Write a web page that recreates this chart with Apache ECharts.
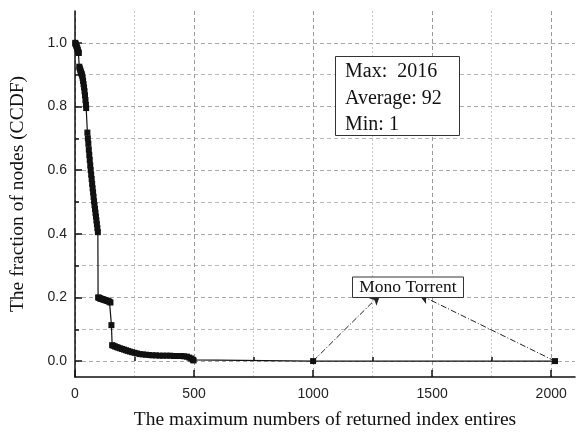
<!DOCTYPE html>
<html><head><meta charset="utf-8">
<script src="https://cdn.jsdelivr.net/npm/echarts@6/dist/echarts.min.js"></script>
<style>html,body{margin:0;padding:0;background:#fff}#c{width:578px;height:435px}</style>
</head><body><div id="c"></div>
<script>
// x: maximum number of returned index entries; y: CCDF
const entriesX = [
  1, 2, 4, 6, 8, 10, 12, 14, 16,
  18, 20, 22, 24, 26, 28, 30, 32, 34, 36, 38, 40, 42, 44, 46, 47,
  52, 54, 56, 58, 60, 62, 64, 66, 68, 70, 72, 74, 76, 78, 80, 82, 84, 86, 88, 90, 92, 94, 96,
  97, 101, 105, 109, 113, 117, 121, 125, 129, 133, 137, 141, 145, 149,
  153,
  156, 162, 168, 175, 182, 190, 198, 206, 214, 222, 230, 240, 250, 260, 272, 285, 298, 312, 325,
  340, 355, 370, 385, 400, 415, 430, 445, 458, 470, 480, 488, 495, 498,
  1000, 2016
];
const ccdfY = [
  1.0, 0.997, 0.994, 0.99, 0.986, 0.982, 0.977, 0.972, 0.968,
  0.925, 0.92, 0.915, 0.91, 0.906, 0.902, 0.897, 0.89, 0.88, 0.87, 0.86, 0.848, 0.835, 0.82, 0.805, 0.795,
  0.718, 0.70, 0.683, 0.665, 0.648, 0.632, 0.615, 0.60, 0.586, 0.572, 0.557, 0.543, 0.53, 0.516, 0.502, 0.49, 0.478, 0.466, 0.454, 0.442, 0.43, 0.418, 0.405,
  0.20, 0.199, 0.197, 0.196, 0.195, 0.194, 0.193, 0.192, 0.191, 0.19, 0.189, 0.188, 0.186, 0.184,
  0.113,
  0.05, 0.048, 0.046, 0.044, 0.042, 0.04, 0.038, 0.036, 0.034, 0.032, 0.03, 0.028, 0.026, 0.024, 0.022, 0.021, 0.02, 0.019, 0.018,
  0.018, 0.017, 0.017, 0.017, 0.017, 0.016, 0.016, 0.016, 0.015, 0.014, 0.011, 0.008, 0.004, 0.002,
  0.0, 0.0
];
const xMajorTicks = [0, 500, 1000, 1500, 2000];
const xMinorTicks = [250, 750, 1250, 1750];
const yMajorTicks = [0, 0.2, 0.4, 0.6, 0.8, 1.0];
const yMinorTicks = [0.1, 0.3, 0.5, 0.7, 0.9];
const statsLines = ['Max:  2016', 'Average: 92', 'Min: 1'];
const calloutText = 'Mono Torrent';
const calloutSources = [[1000, 0], [2016, 0]];
const calloutTargets = [[1283, 0.21], [1443, 0.21]];

const seriesData = entriesX.map((x, i) => [x, ccdfY[i]]);

const chart = echarts.init(document.getElementById('c'), null, {renderer: 'canvas'});
const sans = 'Liberation Sans';
const serif = 'Liberation Serif';
const X_MIN = 0, X_MAX = 2100, Y_MIN = -0.05, Y_MAX = 1.1;

chart.setOption({
  animation: false,
  backgroundColor: '#fff',
  grid: {left: 72, right: 3, top: 11, bottom: 52, containLabel: false},
  xAxis: [{
    type: 'value', min: X_MIN, max: X_MAX, interval: 500, position: 'bottom',
    name: 'The maximum numbers of returned index entires',
    nameLocation: 'middle', nameGap: 33,
    nameTextStyle: {fontFamily: serif, fontSize: 19.5, color: '#111'},
    axisLine: {show: true, onZero: false, lineStyle: {color: '#111', width: 1.5}},
    axisTick: {show: true, inside: true, length: 7, customValues: xMajorTicks, lineStyle: {color: '#111', width: 1.5}},
    axisLabel: {show: true, customValues: xMajorTicks, margin: 10, fontFamily: sans, fontSize: 14, color: '#222',
      formatter: v => String(v)},
    splitLine: {show: true, lineStyle: {color: '#9a9a9a', width: 1, type: [4, 3]}}
  }, {
    type: 'value', min: X_MIN, max: X_MAX, interval: 500, position: 'bottom',
    axisLine: {show: false},
    axisTick: {show: true, inside: true, length: 4, customValues: xMinorTicks, lineStyle: {color: '#111', width: 1.5}},
    axisLabel: {show: false},
    splitLine: {show: true, lineStyle: {color: '#c8c8c8', width: 1, type: [2, 2]}}
  }],
  yAxis: [{
    type: 'value', min: Y_MIN, max: Y_MAX, position: 'left',
    name: 'The fraction of nodes (CCDF)',
    nameLocation: 'middle', nameGap: 47, nameRotate: 90,
    nameTextStyle: {fontFamily: serif, fontSize: 19.5, color: '#111'},
    axisLine: {show: true, onZero: false, lineStyle: {color: '#111', width: 1.5}},
    axisTick: {show: true, inside: true, length: 7, customValues: yMajorTicks, lineStyle: {color: '#111', width: 1.5}},
    axisLabel: {show: true, customValues: yMajorTicks, margin: 8, fontFamily: sans, fontSize: 14, color: '#222',
      formatter: v => v.toFixed(1)},
    splitLine: {show: true, lineStyle: {color: '#a8a8a8', width: 1, type: [4, 3]}}
  }, {
    type: 'value', min: Y_MIN, max: Y_MAX, position: 'left',
    axisLine: {show: false},
    axisTick: {show: true, inside: true, length: 4, customValues: yMinorTicks, lineStyle: {color: '#111', width: 1.5}},
    axisLabel: {show: false},
    splitLine: {show: true, lineStyle: {color: '#b8b8b8', width: 1, type: [4, 3]}}
  }],
  series: [{
    type: 'line',
    xAxisIndex: 0, yAxisIndex: 0,
    data: seriesData,
    showAllSymbol: true,
    symbol: 'rect', symbolSize: 6,
    itemStyle: {color: '#111'},
    lineStyle: {color: '#111', width: 1.2},
    clip: false,
    z: 5,
    markLine: {
      silent: true,
      symbol: ['none', 'arrow'],
      symbolSize: [8, 11],
      label: {show: false},
      lineStyle: {color: '#222', width: 1, type: [6, 2, 1, 2]},
      data: calloutSources.map((s, i) => [{coord: s}, {coord: calloutTargets[i]}])
    }
  }],
  graphic: [
    {type: 'rect', z: 50, shape: {x: 335.5, y: 56.5, width: 124, height: 79},
      style: {fill: '#fff', stroke: '#333', lineWidth: 1}},
    ...statsLines.map((t, i) => ({
      type: 'text', z: 51, x: 345, y: 72 + i * 26.5,
      style: {text: t, font: '20px "Liberation Serif"', fill: '#111', verticalAlign: 'middle'}
    })),
    {type: 'rect', z: 50, shape: {x: 352.5, y: 277, width: 111, height: 20.5},
      style: {fill: '#fff', stroke: '#333', lineWidth: 1}},
    {type: 'text', z: 51, x: 408, y: 287.5,
      style: {text: calloutText, font: '17.5px "Liberation Serif"', fill: '#111', align: 'center', verticalAlign: 'middle'}}
  ]
});
</script>
</body></html>
